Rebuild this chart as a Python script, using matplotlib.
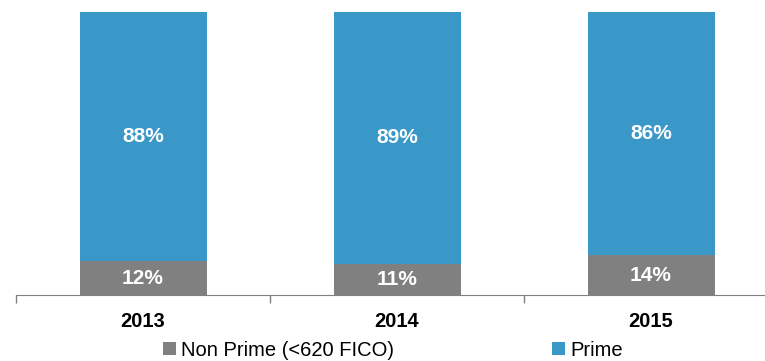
import matplotlib
matplotlib.use("Agg")
import matplotlib.pyplot as plt
from matplotlib.patches import Patch
import numpy as np

years = ['2013', '2014', '2015']
non_prime = [12, 11, 14]
prime = [88, 89, 86]
series_names = ['Non Prime (<620 FICO)', 'Prime']

c_gray = '#808080'
c_blue = '#3A98C9'

plt.rcParams['font.family'] = ['Liberation Sans', 'DejaVu Sans']

W, H = 765, 361
fig = plt.figure(figsize=(W / 100, H / 100), dpi=100)
# category slot is ~254 px wide, first slot starts at x=16
slot = 254.0
left = 16.0
ax = fig.add_axes([left / W, 66 / H, (W - left) / W, 283 / H])

x = np.arange(len(years))
np_frac = np.array(non_prime) / 100
pr_frac = np.array(prime) / 100
ax.bar(x, np_frac, width=0.5, color=c_gray, zorder=2)
ax.bar(x, pr_frac, width=0.5, bottom=np_frac, color=c_blue, zorder=2)

for i in range(len(years)):
    ax.text(x[i], np_frac[i] / 2, f'{non_prime[i]}%', ha='center', va='center',
            color='white', fontsize=15, fontweight='bold')
    ax.text(x[i], np_frac[i] + pr_frac[i] / 2, f'{prime[i]}%', ha='center', va='center',
            color='white', fontsize=15, fontweight='bold')

ax.set_yticks([])
ax.set_xticks(x)
ax.set_xticklabels(years, fontsize=14.5, fontweight='bold')
ax.set_xticks([-0.5, 0.5, 1.5, 2.5], minor=True)
ax.tick_params(axis='x', which='major', length=0, pad=12)
ax.tick_params(axis='x', which='minor', length=6, direction='out', color='#808080', width=1)
# limits after the ticks, otherwise set_xticks widens them
ax.set_xlim(-0.5, -0.5 + (W - left) / slot)
ax.set_ylim(0, 1)
for s in ['top', 'right', 'left']:
    ax.spines[s].set_visible(False)
ax.spines['bottom'].set_color('#808080')

handles = [Patch(facecolor=c_gray, edgecolor='none'), Patch(facecolor=c_blue, edgecolor='none')]
fig.legend(handles, series_names, loc='center', bbox_to_anchor=(393 / W, 1 - 350 / H), ncol=2,
           frameon=False, fontsize=14.5, handlelength=0.65, handleheight=0.65,
           handletextpad=0.25, columnspacing=7.85, borderaxespad=0, borderpad=0)

fig.savefig('out.png', dpi=100)
